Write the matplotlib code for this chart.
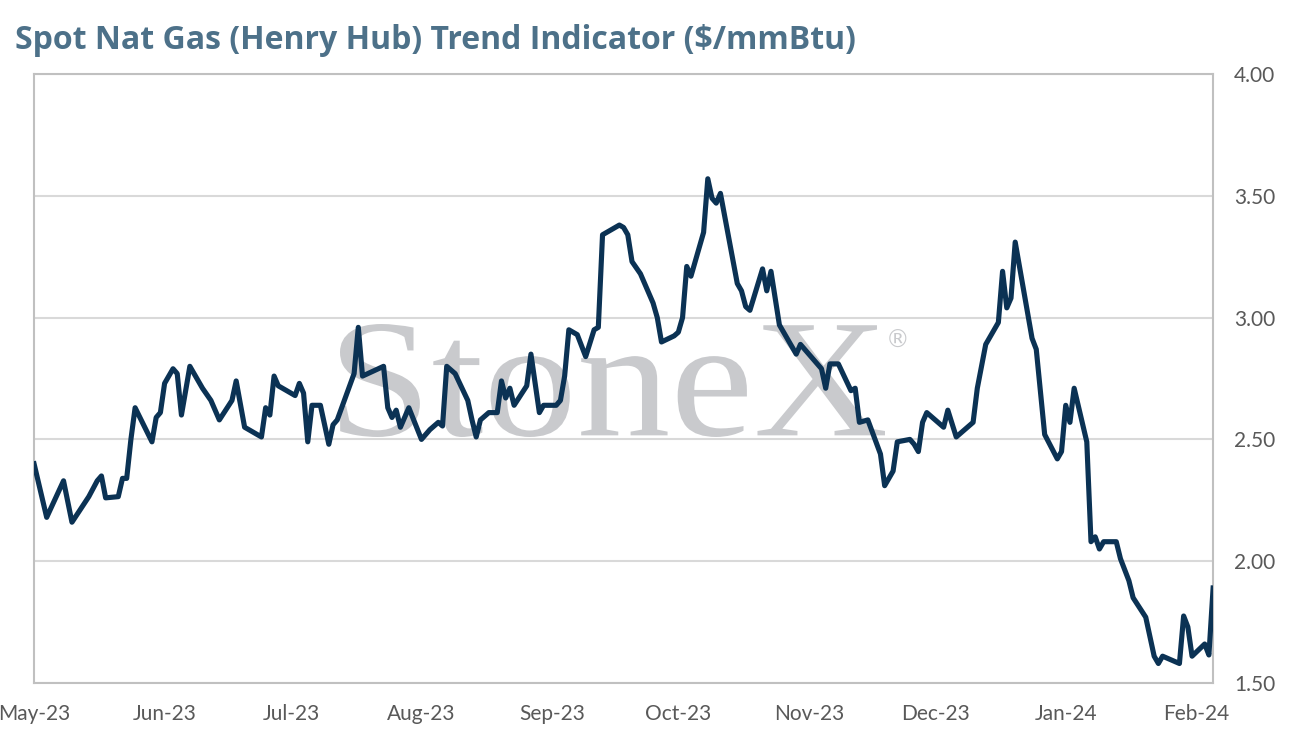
import matplotlib as mpl
import matplotlib.pyplot as plt
import matplotlib.dates as mdates
import matplotlib.ticker as mticker
from matplotlib.textpath import TextPath
from matplotlib.patches import PathPatch
from matplotlib.font_manager import FontProperties
from matplotlib.transforms import Affine2D, IdentityTransform
import pandas as pd

mpl.rcParams["font.family"] = ["Lato", "DejaVu Sans"]

# Data
dates = [
    "2023-05-01", "2023-05-04", "2023-05-08", "2023-05-10", "2023-05-14", "2023-05-16",
    "2023-05-17", "2023-05-18", "2023-05-21", "2023-05-22", "2023-05-23", "2023-05-24",
    "2023-05-25", "2023-05-29", "2023-05-30", "2023-05-31", "2023-06-01", "2023-06-03",
    "2023-06-04", "2023-06-05", "2023-06-07", "2023-06-10", "2023-06-12", "2023-06-14",
    "2023-06-17", "2023-06-18", "2023-06-20", "2023-06-21", "2023-06-24", "2023-06-25",
    "2023-06-26", "2023-06-27", "2023-06-28", "2023-07-02", "2023-07-03", "2023-07-04",
    "2023-07-05", "2023-07-06", "2023-07-08", "2023-07-10", "2023-07-11", "2023-07-12",
    "2023-07-16", "2023-07-17", "2023-07-18", "2023-07-23", "2023-07-24", "2023-07-25",
    "2023-07-26", "2023-07-27", "2023-07-29", "2023-08-01", "2023-08-03", "2023-08-05",
    "2023-08-06", "2023-08-07", "2023-08-09", "2023-08-12", "2023-08-13", "2023-08-14",
    "2023-08-15", "2023-08-17", "2023-08-19", "2023-08-20", "2023-08-21", "2023-08-22",
    "2023-08-23", "2023-08-26", "2023-08-27", "2023-08-29", "2023-08-30", "2023-09-02",
    "2023-09-03", "2023-09-04", "2023-09-05", "2023-09-07", "2023-09-09", "2023-09-11",
    "2023-09-12", "2023-09-13", "2023-09-17", "2023-09-18", "2023-09-19", "2023-09-20",
    "2023-09-22", "2023-09-24", "2023-09-25", "2023-09-26", "2023-09-27", "2023-09-30",
    "2023-10-01", "2023-10-02", "2023-10-03", "2023-10-04", "2023-10-07", "2023-10-08",
    "2023-10-09", "2023-10-10", "2023-10-11", "2023-10-15", "2023-10-16", "2023-10-17",
    "2023-10-18", "2023-10-21", "2023-10-22", "2023-10-23", "2023-10-25", "2023-10-29",
    "2023-10-30", "2023-11-04", "2023-11-05", "2023-11-06", "2023-11-08", "2023-11-11",
    "2023-11-12", "2023-11-13", "2023-11-15", "2023-11-18", "2023-11-19", "2023-11-21",
    "2023-11-22", "2023-11-25", "2023-11-26", "2023-11-27", "2023-11-28", "2023-11-29",
    "2023-12-03", "2023-12-04", "2023-12-06", "2023-12-10", "2023-12-11", "2023-12-13",
    "2023-12-16", "2023-12-17", "2023-12-18", "2023-12-19", "2023-12-20", "2023-12-24",
    "2023-12-25", "2023-12-27", "2023-12-30", "2023-12-31", "2024-01-01", "2024-01-02",
    "2024-01-03", "2024-01-06", "2024-01-07", "2024-01-08", "2024-01-09", "2024-01-10",
    "2024-01-13", "2024-01-14", "2024-01-16", "2024-01-17", "2024-01-20", "2024-01-22",
    "2024-01-23", "2024-01-24", "2024-01-28", "2024-01-29", "2024-01-30", "2024-01-31",
    "2024-02-03", "2024-02-04", "2024-02-05",
]
prices = [
    2.40, 2.18, 2.33, 2.16, 2.265, 2.33,
    2.35, 2.26, 2.265, 2.34, 2.34, 2.50,
    2.63, 2.49, 2.59, 2.61, 2.73, 2.79,
    2.77, 2.60, 2.80, 2.71, 2.66, 2.58,
    2.66, 2.74, 2.55, 2.54, 2.51, 2.63,
    2.60, 2.76, 2.72, 2.68, 2.73, 2.69,
    2.49, 2.64, 2.64, 2.48, 2.56, 2.58,
    2.77, 2.96, 2.76, 2.80, 2.63, 2.59,
    2.62, 2.55, 2.63, 2.50, 2.54, 2.57,
    2.555, 2.80, 2.77, 2.66, 2.58, 2.51,
    2.58, 2.61, 2.61, 2.74, 2.67, 2.71,
    2.64, 2.72, 2.85, 2.61, 2.64, 2.64,
    2.66, 2.76, 2.95, 2.93, 2.84, 2.95,
    2.96, 3.34, 3.38, 3.37, 3.34, 3.23,
    3.18, 3.10, 3.06, 3.00, 2.90, 2.925,
    2.94, 3.00, 3.21, 3.17, 3.35, 3.57,
    3.49, 3.47, 3.51, 3.14, 3.11, 3.045,
    3.03, 3.20, 3.11, 3.19, 2.97, 2.85,
    2.89, 2.79, 2.71, 2.81, 2.81, 2.70,
    2.71, 2.57, 2.58, 2.44, 2.31, 2.37,
    2.49, 2.50, 2.48, 2.45, 2.57, 2.61,
    2.55, 2.62, 2.51, 2.57, 2.71, 2.89,
    2.98, 3.19, 3.04, 3.08, 3.31, 2.915,
    2.87, 2.52, 2.42, 2.45, 2.64, 2.57,
    2.71, 2.49, 2.08, 2.10, 2.05, 2.08,
    2.08, 2.01, 1.92, 1.85, 1.77, 1.61,
    1.58, 1.61, 1.58, 1.775, 1.73, 1.61,
    1.66, 1.615, 1.89,
]
y_ticks = [1.50, 2.00, 2.50, 3.00, 3.50, 4.00]
title = "Spot Nat Gas (Henry Hub) Trend Indicator ($/mmBtu)"

x = pd.to_datetime(dates)

W, H = 1290, 741
fig = plt.figure(figsize=(W / 100, H / 100), dpi=100)
ax = fig.add_axes([0.0264, 0.0783, 0.9140, 0.8218])

# watermark, drawn as a path so it can be stretched to the logo's proportions
tp = TextPath((0, 0), "StoneX", size=1, prop=FontProperties(family="Liberation Serif"))
ext = tp.get_extents()
sx = 545 / ext.width
sy = 113 / ext.height
wm_tf = Affine2D().translate(-ext.x0, -ext.y0).scale(sx, sy).translate(340, H - 437)
wm = PathPatch(wm_tf.transform_path(tp), facecolor="#c9cacd", edgecolor="none",
               transform=IdentityTransform(), zorder=1)
ax.add_artist(wm)
fig.text(898 / W, 1 - 341 / H, "\u00ae", fontsize=17, family="DejaVu Sans",
         color="#c9cacd", ha="center", va="center")

ax.plot(x, prices, color="#0b3254", linewidth=3.7, solid_joinstyle="round", zorder=3)

ax.set_ylim(1.5, 4.0)
ax.set_yticks(y_ticks)
ax.yaxis.set_major_formatter(mticker.FormatStrFormatter("%.2f"))
ax.yaxis.tick_right()
ax.grid(axis="y", color="#d9d9d9", linewidth=1.5, zorder=0)
ax.set_axisbelow(True)

ax.set_xlim(pd.Timestamp("2023-05-01"), pd.Timestamp("2024-02-05"))
ax.xaxis.set_major_locator(mdates.MonthLocator())
ax.xaxis.set_major_formatter(mdates.DateFormatter("%b-%y"))

ax.tick_params(axis="both", length=0, labelsize=15, labelcolor="#595959")
ax.tick_params(axis="x", pad=15)
ax.tick_params(axis="y", pad=15)

for s in ax.spines.values():
    s.set_color("#c0c0c0")
    s.set_linewidth(1.5)

fig.text(0.012, 0.945, title, fontsize=23, fontweight="bold", family="Open Sans",
         color="#4d7189", ha="left", va="center")

fig.savefig("out.png", dpi=100)
